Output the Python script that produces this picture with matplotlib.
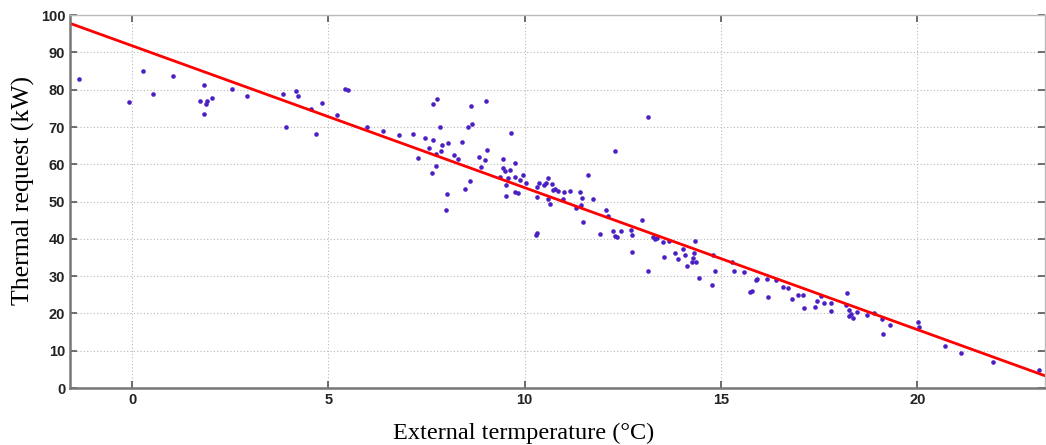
import matplotlib.pyplot as plt

# Scatter data: external temperature (°C) vs thermal request (kW)
temperature = [
    -1.35, -0.07, 0.28, 0.52, 1.04, 1.82, 1.74, 1.82, 1.88, 1.92,
    2.03, 2.54, 2.92, 3.84, 3.91, 4.17, 4.22, 4.56, 4.69, 4.83,
    5.21, 5.41, 5.51, 5.98, 6.40, 6.79, 7.15, 7.47, 7.67, 7.56,
    7.27, 7.75, 7.75, 7.88, 7.89, 8.04, 7.67, 7.77, 7.83, 7.64,
    8.01, 7.99, 8.20, 8.30, 8.39, 8.60, 8.48, 8.64, 8.66, 8.56,
    9.02, 9.05, 8.84, 8.88, 8.98, 9.66, 9.45, 9.44, 9.51, 9.74,
    9.63, 9.36, 9.58, 9.75, 9.52, 9.89, 9.95, 10.03, 9.74, 9.83,
    9.52, 10.32, 10.31, 10.28, 10.31, 10.37, 10.48, 10.54, 10.60, 10.69,
    10.71, 10.77, 10.84, 10.60, 10.65, 10.99, 10.97, 11.16, 11.42, 11.45,
    11.31, 11.44, 11.49, 11.61, 11.73, 12.06, 12.13, 11.91, 12.29, 12.24,
    12.31, 12.35, 12.44, 12.72, 12.70, 12.74, 12.98, 13.14, 13.26, 13.31,
    13.38, 13.15, 13.52, 13.67, 13.54, 13.83, 13.90, 14.03, 14.08, 14.33,
    14.31, 14.29, 14.25, 14.37, 14.13, 14.45, 14.76, 14.85, 14.80, 15.27,
    15.34, 15.59, 15.88, 15.92, 15.74, 15.78, 16.20, 16.18, 16.40, 16.59,
    16.70, 16.80, 16.95, 17.08, 17.12, 17.40, 17.44, 17.55, 17.61, 17.80,
    17.80, 18.22, 18.18, 18.26, 18.30, 18.26, 18.36, 18.47, 18.73, 18.90,
    19.11, 19.13, 19.31, 20.01, 20.05, 20.70, 21.11, 21.93, 23.11,
]
thermal_request = [
    82.8, 76.7, 85.1, 78.8, 83.8, 81.3, 77.0, 73.6, 76.3, 77.0,
    77.7, 80.1, 78.2, 78.8, 70.0, 79.7, 78.4, 74.7, 68.0, 76.5,
    73.1, 80.2, 79.9, 70.0, 69.0, 67.8, 68.1, 67.1, 66.6, 64.3,
    61.8, 59.5, 62.7, 63.6, 65.2, 65.6, 76.3, 77.5, 70.0, 57.6,
    52.0, 47.7, 62.6, 61.5, 66.0, 55.6, 53.5, 75.6, 70.9, 70.0,
    76.9, 63.7, 62.0, 59.4, 61.2, 68.4, 61.4, 59.0, 58.3, 60.4,
    58.5, 56.7, 56.2, 56.5, 54.4, 55.9, 57.2, 55.1, 52.6, 52.3,
    51.6, 53.8, 51.2, 41.0, 41.5, 54.9, 54.4, 55.1, 56.2, 54.7,
    53.2, 53.4, 52.9, 50.6, 49.4, 52.6, 50.6, 52.8, 52.5, 50.9,
    48.3, 49.0, 44.4, 57.2, 50.6, 47.8, 46.1, 41.3, 63.6, 42.1,
    40.7, 40.4, 42.1, 36.5, 42.4, 41.0, 45.0, 31.3, 40.5, 40.1,
    40.2, 72.7, 39.1, 39.5, 35.2, 36.3, 34.7, 37.3, 35.6, 39.3,
    36.3, 34.8, 33.9, 33.9, 32.6, 29.5, 27.6, 31.5, 35.6, 33.9,
    31.5, 31.2, 28.9, 29.3, 25.7, 26.0, 24.3, 29.2, 28.9, 27.0,
    26.9, 23.8, 25.0, 25.0, 21.4, 21.8, 23.4, 24.7, 22.9, 22.9,
    20.7, 25.6, 22.2, 20.9, 19.8, 19.3, 18.7, 20.5, 19.6, 20.0,
    18.5, 14.5, 16.9, 17.6, 16.3, 11.2, 9.4, 6.9, 4.9,
]

# Regression line, end points read at the axes edges
fit_x = [-1.58, 23.25]
fit_y = [97.8, 3.3]

x_ticks = [0, 5, 10, 15, 20]
y_ticks = [0, 10, 20, 30, 40, 50, 60, 70, 80, 90, 100]

fig = plt.figure(figsize=(10.46, 4.45), dpi=100)
ax = fig.add_axes([0.067, 0.128, 0.932, 0.838])

ax.plot(temperature, thermal_request, linestyle="none", marker="o",
        markersize=3.3, color="#4b1fc4", markeredgewidth=0)
ax.plot(fit_x, fit_y, color="#ff0000", linewidth=2.0)

ax.set_xlim(-1.58, 23.25)
ax.set_ylim(0, 100)
ax.set_xticks(x_ticks)
ax.set_yticks(y_ticks)

# MATLAB-like look: dotted grid, ticks inside on all four sides
ax.grid(True, linestyle=(0, (1, 2)), color="#b8b8b8", linewidth=0.8)
ax.tick_params(direction="in", length=5, width=1.2, color="#555555",
               top=True, right=True, labelsize=10.5, labelcolor="#222222")
for lbl in ax.get_xticklabels() + ax.get_yticklabels():
    lbl.set_fontfamily("Liberation Sans")
    lbl.set_fontweight("bold")
for side in ["left", "bottom"]:
    ax.spines[side].set_color("#777777")
    ax.spines[side].set_linewidth(1.8)
for side in ["top", "right"]:
    ax.spines[side].set_color("#bbbbbb")
    ax.spines[side].set_linewidth(1.0)

ax.set_xlabel("External termperature (°C)", fontfamily="Liberation Serif",
              fontsize=17.5)
ax.set_ylabel("Thermal request (kW)", fontfamily="Liberation Serif",
              fontsize=18.5)
ax.xaxis.set_label_coords(0.465, -0.093)
ax.yaxis.set_label_coords(-0.036, 0.53)

fig.savefig("out.png", dpi=100)
